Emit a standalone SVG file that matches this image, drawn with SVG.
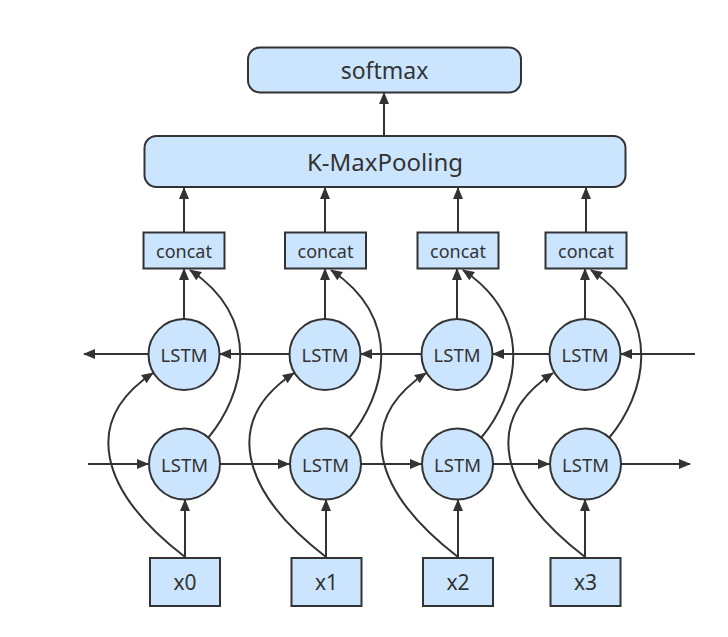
<svg xmlns="http://www.w3.org/2000/svg" width="728" height="637" viewBox="0 0 728 637">
<style>
.n{fill:#cce5ff;stroke:#333;stroke-width:2}
.t{font-family:"Noto Sans","Open Sans",sans-serif;fill:#333;text-anchor:middle;dominant-baseline:central}
.e{fill:none;stroke:#333;stroke-width:2;marker-end:url(#a)}
</style>
<defs>
<marker id="a" markerUnits="userSpaceOnUse" markerWidth="12" markerHeight="10" refX="11" refY="5" orient="auto"><path d="M0,0 L12,5 L0,10 z" fill="#333"/></marker>
</defs>
<rect width="728" height="637" fill="#fff"/>
<g id="connectors">
<path class="e" d="M384,136 V93"/>
<path class="e" d="M184,232 V188"/>
<path class="e" d="M325,232 V188"/>
<path class="e" d="M458,232 V188"/>
<path class="e" d="M586,232 V188"/>
<path class="e" d="M184,319 V269"/>
<path class="e" d="M325,319 V269"/>
<path class="e" d="M457,319 V269"/>
<path class="e" d="M585,319 V269"/>
<path class="e" d="M185,557 V500"/>
<path class="e" d="M326,557 V500"/>
<path class="e" d="M458,557 V500"/>
<path class="e" d="M585,557 V500"/>
<path class="e" d="M88,464 H148"/>
<path class="e" d="M220,464 H289"/>
<path class="e" d="M361,464 H421"/>
<path class="e" d="M493,464 H549"/>
<path class="e" d="M621,464 H690"/>
<path class="e" d="M695,354 H621"/>
<path class="e" d="M549,354 H493"/>
<path class="e" d="M421,354 H361"/>
<path class="e" d="M289,354 H220"/>
<path class="e" d="M148,354 H84"/>
<path class="e" d="M185,557 C98,490 82,420 153,373"/>
<path class="e" d="M326,557 C239,490 223,420 294,373"/>
<path class="e" d="M458,557 C371,490 355,420 426,373"/>
<path class="e" d="M585,557 C498,490 482,420 553,373"/>
<path class="e" d="M208,438 C244,395 264,320 190,270"/>
<path class="e" d="M349,438 C385,395 405,320 331,270"/>
<path class="e" d="M481,438 C517,395 537,320 463,270"/>
<path class="e" d="M609,438 C645,395 665,320 591,270"/>
</g>
<g id="softmax"><rect class="n" x="248" y="47.5" width="273" height="45" rx="12"/><text class="t" x="384.5" y="70" font-size="23">softmax</text></g>
<g id="kmax"><rect class="n" x="144.5" y="136" width="481" height="51" rx="12"/><text class="t" x="385" y="161" font-size="24">K-MaxPooling</text></g>
<g id="concat0"><rect class="n" x="143.5" y="232.5" width="81" height="36"/><text class="t" x="184" y="250.5" font-size="18">concat</text></g>
<g id="concat1"><rect class="n" x="285" y="232.5" width="81" height="36"/><text class="t" x="325.5" y="250.5" font-size="18">concat</text></g>
<g id="concat2"><rect class="n" x="417.5" y="232.5" width="81" height="36"/><text class="t" x="458" y="250.5" font-size="18">concat</text></g>
<g id="concat3"><rect class="n" x="545.5" y="232.5" width="81" height="36"/><text class="t" x="586" y="250.5" font-size="18">concat</text></g>
<g id="up0"><circle class="n" cx="184" cy="354.5" r="35.5"/><text class="t" x="184" y="354.5" font-size="18.5">LSTM</text></g>
<g id="up1"><circle class="n" cx="325" cy="354.5" r="35.5"/><text class="t" x="325" y="354.5" font-size="18.5">LSTM</text></g>
<g id="up2"><circle class="n" cx="457" cy="354.5" r="35.5"/><text class="t" x="457" y="354.5" font-size="18.5">LSTM</text></g>
<g id="up3"><circle class="n" cx="585" cy="354.5" r="35.5"/><text class="t" x="585" y="354.5" font-size="18.5">LSTM</text></g>
<g id="lo0"><circle class="n" cx="184.5" cy="464" r="35.5"/><text class="t" x="184.5" y="464" font-size="18.5">LSTM</text></g>
<g id="lo1"><circle class="n" cx="325.5" cy="464" r="35.5"/><text class="t" x="325.5" y="464" font-size="18.5">LSTM</text></g>
<g id="lo2"><circle class="n" cx="457.5" cy="464" r="35.5"/><text class="t" x="457.5" y="464" font-size="18.5">LSTM</text></g>
<g id="lo3"><circle class="n" cx="585.5" cy="464" r="35.5"/><text class="t" x="585.5" y="464" font-size="18.5">LSTM</text></g>
<g id="x0"><rect class="n" x="150" y="558" width="70" height="48"/><text class="t" x="185" y="582" font-size="21">x0</text></g>
<g id="x1"><rect class="n" x="291.5" y="558" width="70" height="48"/><text class="t" x="326.5" y="582" font-size="21">x1</text></g>
<g id="x2"><rect class="n" x="423" y="558" width="70" height="48"/><text class="t" x="458" y="582" font-size="21">x2</text></g>
<g id="x3"><rect class="n" x="550.5" y="558" width="70" height="48"/><text class="t" x="585.5" y="582" font-size="21">x3</text></g>
</svg>
